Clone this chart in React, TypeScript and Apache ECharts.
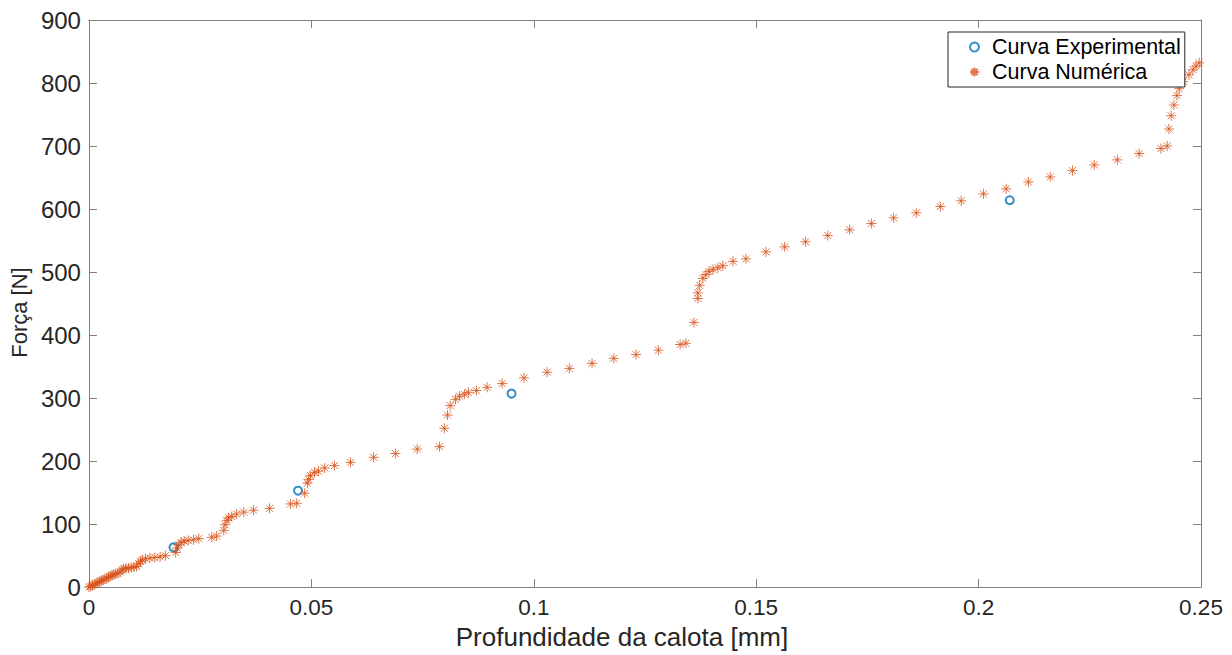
import React, { useEffect, useRef } from "react";
import * as echarts from "echarts";

const expX = [0.019, 0.047, 0.095, 0.207];
const expY = [63, 153, 307, 614];

const numX = [
  0, 0.0004, 0.0008, 0.0012, 0.0016, 0.002, 0.0024, 0.0028, 0.0032, 0.0036, 0.004, 0.0044, 0.0048,
  0.0052, 0.0056, 0.006, 0.0065, 0.007, 0.0074, 0.0078, 0.0083, 0.0089, 0.0095, 0.0101, 0.0107,
  0.0112, 0.0116, 0.012, 0.0127, 0.0137, 0.0148, 0.016, 0.0172,
  0.0195, 0.0198, 0.0202, 0.0207, 0.0214, 0.0223, 0.0235, 0.0247, 0.0276, 0.0287, 0.0303, 0.0306,
  0.031, 0.0314, 0.0321, 0.0332, 0.0348, 0.037, 0.0406, 0.0453, 0.0467, 0.0485, 0.0491, 0.0494,
  0.0498, 0.0507, 0.0516, 0.053, 0.0552, 0.0588, 0.064, 0.0689, 0.0738, 0.0788, 0.0799, 0.0806,
  0.0812, 0.0824, 0.0833, 0.0844, 0.0853, 0.0871, 0.0895, 0.0929, 0.0978, 0.103, 0.108, 0.1131,
  0.118, 0.123, 0.128, 0.1329, 0.1342, 0.136, 0.1369, 0.1369, 0.1373, 0.138, 0.1387, 0.1394,
  0.1403, 0.1414, 0.1425, 0.1448, 0.1477, 0.1522, 0.1564, 0.1611, 0.1661, 0.171, 0.1759, 0.1809,
  0.186, 0.1914, 0.1961, 0.2011, 0.2062, 0.2112, 0.2161, 0.2211, 0.226, 0.2312, 0.2361, 0.241,
  0.2424, 0.2428, 0.2433, 0.2439, 0.2446, 0.2451, 0.246, 0.2473, 0.2482, 0.2489, 0.2496,
];
const numY = [
  0, 1, 3, 4, 6, 7, 9, 10, 11, 13, 14, 16, 17,
  19, 20, 21, 22, 24, 27, 29, 30, 30, 31, 32, 33,
  37, 41, 43, 45, 46, 47, 48, 50,
  55, 62, 67, 71, 73, 74, 75, 77, 79, 81, 90, 99,
  106, 110, 112, 116, 119, 122, 125, 132, 133, 149, 165, 171,
  177, 182, 184, 189, 193, 198, 206, 212, 219, 223, 252, 273,
  288, 298, 303, 306, 309, 312, 317, 323, 332, 341, 347, 355,
  363, 369, 376, 385, 387, 420, 458, 467, 479, 490, 496, 501,
  504, 507, 510, 517, 521, 532, 540, 548, 558, 567, 577, 586,
  594, 604, 613, 624, 632, 643, 651, 661, 670, 678, 688, 696,
  700, 727, 748, 765, 780, 791, 802, 813, 821, 827, 832,
];

const expName = "Curva Experimental";
const numName = "Curva Numérica";

const FONT = "'Liberation Sans', Arial, Helvetica, sans-serif";
const AXIS_COLOR = "#808080";
const TEXT_COLOR = "#262626";
const STAR = "path://M0,5L10,5M5,0L5,10M1.5,1.5L8.5,8.5M1.5,8.5L8.5,1.5";

export default function App() {
  const ref = useRef<HTMLDivElement>(null);
  useEffect(() => {
    if (!ref.current) return;
    const chart = echarts.init(ref.current, undefined, { renderer: "svg" });
    const xCommon = {
      type: "value" as const,
      min: 0,
      max: 0.25,
      interval: 0.05,
      splitLine: { show: false },
      axisLine: { show: true, onZero: false, lineStyle: { color: AXIS_COLOR, width: 1 } },
      axisTick: { show: true, inside: true, length: 8, lineStyle: { color: AXIS_COLOR } },
    };
    const yCommon = {
      type: "value" as const,
      min: 0,
      max: 900,
      interval: 100,
      splitLine: { show: false },
      axisLine: { show: true, onZero: false, lineStyle: { color: AXIS_COLOR, width: 1 } },
      axisTick: { show: true, inside: true, length: 8, lineStyle: { color: AXIS_COLOR } },
    };
    chart.setOption({
      animation: false,
      backgroundColor: "#fff",
      textStyle: { fontFamily: FONT },
      grid: { left: 87, right: 31, top: 20, bottom: 67, containLabel: false },
      legend: {
        orient: "vertical",
        left: 948,
        top: 32,
        backgroundColor: "#fff",
        borderColor: "#262626",
        borderWidth: 1,
        padding: [4, 4, 4, 21],
        itemWidth: 25,
        itemHeight: 9,
        itemGap: 3,
        textStyle: { fontSize: 21.5, color: "#000", fontFamily: FONT, lineHeight: 20 },
        data: [
          { name: expName, icon: "emptyCircle" },
          { name: numName, icon: STAR },
        ],
      },
      xAxis: [
        {
          ...xCommon,
          position: "bottom",
          name: "Profundidade da calota [mm]",
          nameLocation: "middle",
          nameGap: 36,
          nameTextStyle: {
            fontSize: 26,
            color: TEXT_COLOR,
            fontFamily: FONT,
            padding: [0, 46, 0, 0],
          },
          axisLabel: { fontSize: 22.5, color: TEXT_COLOR, margin: 9, fontFamily: FONT },
        },
        {
          ...xCommon,
          position: "top",
          axisLabel: { show: false },
        },
      ],
      yAxis: [
        {
          ...yCommon,
          position: "left",
          name: "Força [N]",
          nameLocation: "middle",
          nameGap: 54,
          nameTextStyle: {
            fontSize: 22,
            color: TEXT_COLOR,
            fontFamily: FONT,
            padding: [0, 18, 0, 0],
          },
          axisLabel: { fontSize: 24, color: TEXT_COLOR, margin: 8, fontFamily: FONT },
        },
        {
          ...yCommon,
          position: "right",
          axisLabel: { show: false },
        },
      ],
      series: [
        {
          name: expName,
          type: "scatter",
          symbol: "emptyCircle",
          symbolSize: 8,
          itemStyle: { color: "#0072BD", borderColor: "#0072BD", borderWidth: 2 },
          data: expX.map((x, i) => [x, expY[i]]),
          z: 2,
        },
        {
          name: numName,
          type: "scatter",
          symbol: STAR,
          symbolSize: 10,
          itemStyle: { color: "#D95319", borderColor: "#D95319", borderWidth: 1 },
          data: numX.map((x, i) => [x, numY[i]]),
          z: 3,
        },
      ],
    });
    return () => chart.dispose();
  }, []);
  return (
    <div
      ref={ref}
      style={{ position: "absolute", left: 0, top: 0, width: 1232, height: 655, background: "#fff" }}
    />
  );
}
